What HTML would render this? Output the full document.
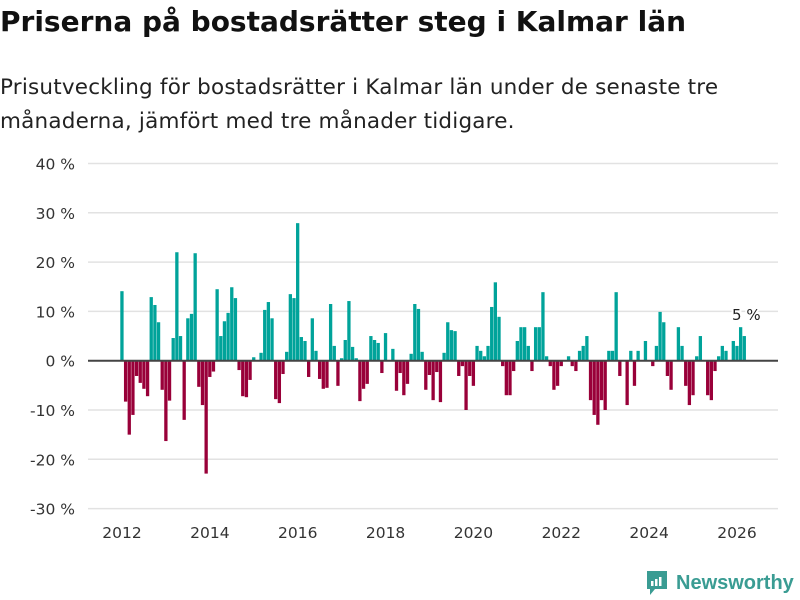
<!DOCTYPE html>
<html><head><meta charset="utf-8"><style>
body{margin:0;width:800px;height:600px;background:#fff;font-family:"DejaVu Sans","Liberation Sans",sans-serif;overflow:hidden;position:relative}
h1{position:absolute;left:0;top:5px;margin:0;font-size:28px;font-weight:bold;color:#111;letter-spacing:0;white-space:nowrap}
p.sub{position:absolute;left:0;top:71px;margin:0;font-size:21.5px;line-height:34px;color:#222;width:790px;letter-spacing:0.2px;white-space:nowrap}
</style></head><body>
<h1>Priserna på bostadsrätter steg i Kalmar län</h1>
<p class="sub">Prisutveckling för bostadsrätter i Kalmar län under de senaste tre<br>månaderna, jämfört med tre månader tidigare.</p>
<svg id="chart" width="800" height="600" style="position:absolute;left:0;top:0"></svg>
<div style="position:absolute;left:645px;top:569px;display:flex;align-items:center">
<svg width="24" height="28" viewBox="0 0 24 28"><path d="M2 2h20v18H10l-5 6v-6H2z" fill="#3a9c93"/><rect x="6" y="12" width="2.5" height="5" fill="#fff"/><rect x="10" y="10" width="2.5" height="7" fill="#fff"/><rect x="14" y="8" width="2.5" height="9" fill="#fff"/></svg>
<span style="font-size:20px;font-weight:bold;color:#3a9c93;margin-left:7px;font-family:'Liberation Sans',sans-serif">Newsworthy</span></div>
<script>
const startYear = 2012;
const values = [14.1,-8.3,-15,-11,-3.1,-4.5,-5.7,-7.2,12.9,11.3,7.8,-5.9,
-16.3,-8.1,4.6,22,5,-12,8.6,9.5,21.8,-5.3,-9,-22.9,
-3.3,-2.2,14.5,5,8,9.7,14.9,12.7,-1.9,-7.2,-7.4,-3.9,
0.7,0,1.6,10.3,11.9,8.6,-7.8,-8.6,-2.7,1.8,13.5,12.7,
27.9,4.8,4,-3.3,8.6,2,-3.7,-5.7,-5.5,11.5,3,-5.1,
0.5,4.2,12.1,2.8,0.5,-8.2,-5.7,-4.7,5,4.2,3.6,-2.5,
5.6,0,2.4,-6.1,-2.5,-7,-4.7,1.4,11.5,10.5,1.8,-5.9,
-2.9,-8,-2.3,-8.4,1.6,7.8,6.2,6,-3.1,-1.1,-10,-3.1,
-5.1,3,2,0.9,3,10.9,15.9,8.9,-1.1,-7,-7,-2.1,
4,6.8,6.8,3,-2.1,6.8,6.8,13.9,0.9,-1.1,-5.9,-5.1,
-1.1,0,0.9,-1.1,-2.1,2,3,5,-8,-11,-13,-8,
-10,2,2,13.9,-3.1,0,-9,2,-5.1,2,0,4,
0,-1.1,3,9.9,7.8,-3.1,-5.9,0,6.8,3,-5.1,-9,
-7,0.9,5,0,-7,-8,-2.1,0.9,3,2,0,4,
3,6.8,5];
const yTicks = [40,30,20,10,0,-10,-20,-30];
const xTicks = [2012,2014,2016,2018,2020,2022,2024,2026];
const lastLabel = "5 %";
const NS="http://www.w3.org/2000/svg";
const svg=document.getElementById('chart');
const y=v=>360.7-v*4.93;
const x=t=>122+(t-2012)*43.93;
function mk(tag,attrs){const e=document.createElementNS(NS,tag);for(const k in attrs)e.setAttribute(k,attrs[k]);svg.appendChild(e);return e;}
yTicks.forEach(v=>{
  if(v!==0){const g=mk('line',{x1:88,x2:778,y1:y(v),y2:y(v),stroke:'#e2e2e2','stroke-width':1.5});
  
  }
  const t=mk('text',{x:75,y:y(v)+6,'text-anchor':'end','font-size':15.5,fill:'#333'});
  t.textContent=v+' %';
  
  
});
xTicks.forEach(yr=>{
  const t=mk('text',{x:x(yr),y:538,'text-anchor':'middle','font-size':15.5,fill:'#333'});
  t.textContent=yr;
  
  
});
values.forEach((v,i)=>{
  if(v===0)return;
  const cx=x(startYear+i/12);
  const r=mk('rect',{x:cx-1.7,width:3.3,y:Math.min(y(v),y(0)),height:Math.abs(y(v)-y(0)),fill:v>0?'#00a39a':'#990039'});
  
  
});
const z=mk('line',{x1:88,x2:778,y1:y(0),y2:y(0),stroke:'#444','stroke-width':2});


const li=values.length-1;
const lt=mk('text',{x:x(startYear+li/12)+2,y:y(values[li])-16,'text-anchor':'middle','font-size':15,fill:'#222',stroke:'#fff','stroke-width':4,'paint-order':'stroke'});
lt.textContent=lastLabel;


</script>
</body></html>
